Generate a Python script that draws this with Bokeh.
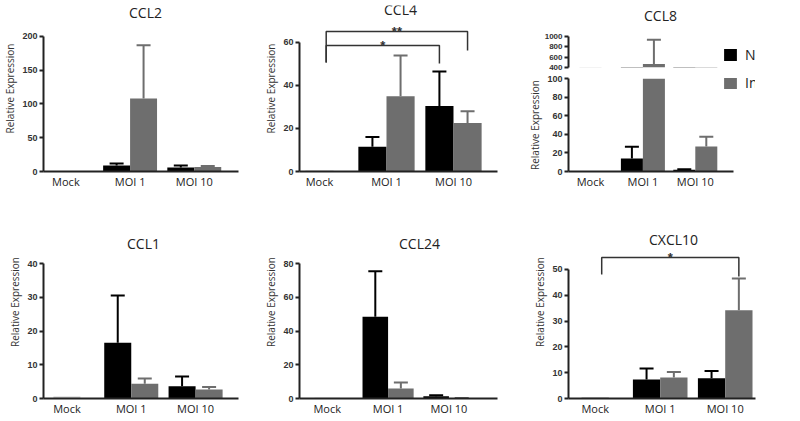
import numpy as np
from bokeh.plotting import figure
from bokeh.models import (ColumnDataSource, FixedTicker, Whisker, TeeHead, Legend,
                          LegendItem, Label, Range1d)
from bokeh.layouts import row, column
from bokeh.embed import file_html
from bokeh.resources import INLINE
from bokeh.core.properties import value

# ---------------- data (relative expression) ----------------
groups = ["Mock", "MOI 1", "MOI 10"]
moi_groups = ["MOI 1", "MOI 10"]
series = ["Naive", "Infected"]

ccl2_mock = [0.8]
ccl2_naive = [9.0, 6.0]
ccl2_naive_err = [3.0, 3.0]
ccl2_infected = [108.0, 6.5]
ccl2_infected_err = [79.0, 1.5]

ccl4_mock = [0.5]
ccl4_naive = [11.5, 30.5]
ccl4_naive_err = [4.5, 16.0]
ccl4_infected = [35.0, 22.5]
ccl4_infected_err = [19.0, 5.5]

ccl8_mock = [0.5]
ccl8_naive = [14.0, 2.0]
ccl8_naive_err = [12.5, 0.5]
ccl8_infected = [470.0, 27.0]
ccl8_infected_err = [465.0, 10.5]

ccl1_mock = [0.6]
ccl1_naive = [16.5, 3.6]
ccl1_naive_err = [14.0, 2.9]
ccl1_infected = [4.4, 2.7]
ccl1_infected_err = [1.5, 0.7]

ccl24_mock = [0.4]
ccl24_naive = [48.4, 1.4]
ccl24_naive_err = [27.1, 0.5]
ccl24_infected = [5.9, 0.3]
ccl24_infected_err = [3.6, 0.0]

cxcl10_mock = [0.6]
cxcl10_naive = [7.4, 7.8]
cxcl10_naive_err = [4.2, 2.9]
cxcl10_infected = [8.1, 34.2]
cxcl10_infected_err = [2.2, 12.3]

# significance annotations: (label, compared group, compared series)
ccl4_sig = [("*", "MOI 10", "Naive"), ("**", "MOI 10", "Infected")]
cxcl10_sig = [("*", "MOI 10", "Infected")]

# ---------------- styles ----------------
NAIVE = "#000000"
INF = "#6e6e6e"
MOCK = "#cdcdcd"
AXIS = "#222222"
TEXT = "#222222"
BAR_W = 0.42
DODGE = 0.21


def sources(mock, naive, naive_err, inf, inf_err):
    x = np.array([groups.index(g) for g in moi_groups], dtype=float)
    naive = np.array(naive); inf = np.array(inf)
    src = ColumnDataSource(dict(
        x=x, xn=x - DODGE, xi=x + DODGE,
        naive=naive, naive_hi=naive + np.array(naive_err),
        inf=inf, inf_hi=inf + np.array(inf_err)))
    msrc = ColumnDataSource(dict(x=[groups.index("Mock")], mock=mock))
    return src, msrc


def make_fig(width, height, xr, yr, mbl, mbr, mbt, mbb, xaxis=True):
    kw = dict(width=width, height=height, x_range=Range1d(*xr), y_range=Range1d(*yr),
              output_backend="svg", toolbar_location=None,
              min_border_left=mbl, min_border_right=mbr,
              min_border_top=mbt, min_border_bottom=mbb)
    if not xaxis:
        kw["x_axis_location"] = None
    p = figure(**kw)
    p.outline_line_color = None
    p.grid.visible = False
    p.background_fill_color = "white"
    p.border_fill_color = "white"
    return p


def style_y(p, ticks, ylabel=True, size="9px"):
    ax = p.yaxis[0]
    ax.ticker = FixedTicker(ticks=ticks)
    ax.bounds = (ticks[0], ticks[-1])
    ax.axis_line_width = 2
    ax.axis_line_color = AXIS
    ax.major_tick_out = 4
    ax.major_tick_in = 0
    ax.major_tick_line_width = 2
    ax.major_tick_line_color = AXIS
    ax.minor_tick_line_color = None
    ax.major_label_standoff = 2
    ax.major_label_text_font = "Liberation Sans"
    ax.major_label_text_font_style = "bold"
    ax.major_label_text_font_size = size
    ax.major_label_text_color = "#333333"
    if ylabel:
        ax.axis_label = "Relative Expression"
        ax.axis_label_text_font = "Open Sans"
        ax.axis_label_text_font_size = "10px"
        ax.axis_label_text_font_style = "normal"
        ax.axis_label_text_color = "#333333"
        ax.axis_label_standoff = 2


def style_x(p, standoff, bound_end=None):
    ax = p.xaxis[0]
    ax.ticker = FixedTicker(ticks=list(range(len(groups))))
    ax.major_label_overrides = {i: g for i, g in enumerate(groups)}
    ax.axis_line_width = 2
    ax.axis_line_color = AXIS
    ax.major_tick_line_color = None
    ax.major_tick_out = 0
    ax.major_tick_in = 0
    ax.minor_tick_line_color = None
    ax.major_label_standoff = standoff
    ax.major_label_text_font = "Open Sans"
    ax.major_label_text_font_size = "11px"
    ax.major_label_text_color = TEXT
    if bound_end is not None:
        ax.bounds = (p.x_range.start, bound_end)


def draw(p, src, msrc):
    p.vbar(x="x", top="mock", width=BAR_W, source=msrc, fill_color=MOCK, line_color=None)
    rn = p.vbar(x="xn", top="naive", width=BAR_W, source=src, fill_color=NAIVE, line_color=None)
    ri = p.vbar(x="xi", top="inf", width=BAR_W, source=src, fill_color=INF, line_color=None)
    for base, lo, hi, col in (("xn", "naive", "naive_hi", NAIVE), ("xi", "inf", "inf_hi", INF)):
        p.add_layout(Whisker(source=src, base=base, lower=lo, upper=hi, line_color=col,
                             line_width=2, lower_head=None,
                             upper_head=TeeHead(size=14, line_color=col, line_width=2)))
    return rn, ri


def title(p, text, sx, sy):
    p.add_layout(Label(x=sx, y=sy, x_units="screen", y_units="screen", text=text,
                       text_align="center", text_baseline="middle",
                       text_font="Open Sans", text_font_size="14px", text_color=TEXT))


def brackets(p, sig, heights, drops_left, drops_right):
    left = groups.index("Mock") + 0.1
    for (lab, grp, ser), h, dl, dr in zip(sig, heights, drops_left, drops_right):
        right = groups.index(grp) + (-DODGE if ser == "Naive" else DODGE)
        p.multi_line(xs=[[left, left, right, right]], ys=[[dl, h, h, dr]],
                     line_color="#333333", line_width=1.5)
        p.text(x=[(left + right) / 2], y=[h], text=[lab], text_align="center",
               text_baseline="alphabetic", text_font=value("Liberation Sans"),
               text_font_style="bold", text_font_size="13px", text_color="#333333")


# ---------------- row 1 (height 200) ----------------
# CCL2
p1 = make_fig(255, 200, (-0.349, 2.689), (0, 245.9), 38, 15, 5, 29)
s, m = sources(ccl2_mock, ccl2_naive, ccl2_naive_err, ccl2_infected, ccl2_infected_err)
draw(p1, s, m)
style_y(p1, [0, 50, 100, 150, 200])
style_x(p1, 2)
title(p1, "CCL2", 102, 159)

# CCL4
p2 = make_fig(265, 200, (-0.2985, 2.657), (0, 77.2), 44, 23, 5, 29)
s, m = sources(ccl4_mock, ccl4_naive, ccl4_naive_err, ccl4_infected, ccl4_infected_err)
draw(p2, s, m)
style_y(p2, [0, 20, 40, 60])
style_x(p2, 2)
title(p2, "CCL4", 101, 162)
brackets(p2, ccl4_sig, [58.6, 65.1], [50.7, 50.7], [50.2, 56.3])

# CCL8 (broken axis: upper segment + lower segment)
x8 = (-0.42, 3.149)
p3t = make_fig(280, 72, x8, (400, 1600), 48, 0, 5, 5, xaxis=False)
s, m = sources(ccl8_mock, ccl8_naive, ccl8_naive_err, ccl8_infected, ccl8_infected_err)
rn_t, ri_t = draw(p3t, s, m)
style_y(p3t, [400, 600, 800, 1000], ylabel=False, size="8px")
title(p3t, "CCL8", 92, 52)

p3b = make_fig(280, 128, x8, (0, 100), 48, 0, 6, 29)
rn_b, ri_b = draw(p3b, s, m)
style_y(p3b, [0, 20, 40, 60, 80, 100])
style_x(p3b, 2, bound_end=2.734)

legend_kw = dict(glyph_width=16, glyph_height=15, label_standoff=7, padding=0, margin=0,
                 spacing=0, border_line_color=None, background_fill_alpha=0,
                 label_text_font="Open Sans", label_text_font_size="14px",
                 label_text_color=TEXT)
p3t.add_layout(Legend(items=[LegendItem(label=series[0], renderers=[rn_t])],
                      location=(154, 3), **legend_kw))
p3b.add_layout(Legend(items=[LegendItem(label=series[1], renderers=[ri_b])],
                      location=(154, 79), **legend_kw))

# ---------------- row 2 (height 219) ----------------
# CCL1
p4 = make_fig(255, 219, (-0.364, 2.667), (0, 57.19), 38, 17, 5, 21)
s, m = sources(ccl1_mock, ccl1_naive, ccl1_naive_err, ccl1_infected, ccl1_infected_err)
draw(p4, s, m)
style_y(p4, [0, 10, 20, 30, 40])
style_x(p4, 2)
title(p4, "CCL1", 100, 155)

# CCL24
p5 = make_fig(265, 219, (-0.4556, 2.798), (0, 114.4), 37, 23, 5, 21)
s, m = sources(ccl24_mock, ccl24_naive, ccl24_naive_err, ccl24_infected, ccl24_infected_err)
draw(p5, s, m)
style_y(p5, [0, 20, 40, 60, 80])
style_x(p5, 2)
title(p5, "CCL24", 120, 155)

# CXCL10
p6 = make_fig(280, 219, (-0.4108, 2.466), (0, 74.8), 48, 45, 5, 21)
s, m = sources(cxcl10_mock, cxcl10_naive, cxcl10_naive_err, cxcl10_infected, cxcl10_infected_err)
draw(p6, s, m)
style_y(p6, [0, 10, 20, 30, 40, 50])
style_x(p6, 2)
title(p6, "CXCL10", 105, 159)
brackets(p6, cxcl10_sig, [54.65], [48.06], [47.3])

layout = row(column(p1, p4, spacing=0),
             column(p2, p5, spacing=0),
             column(p3t, p3b, p6, spacing=0), spacing=0)

open("out.html", "w").write(file_html(layout, INLINE))
